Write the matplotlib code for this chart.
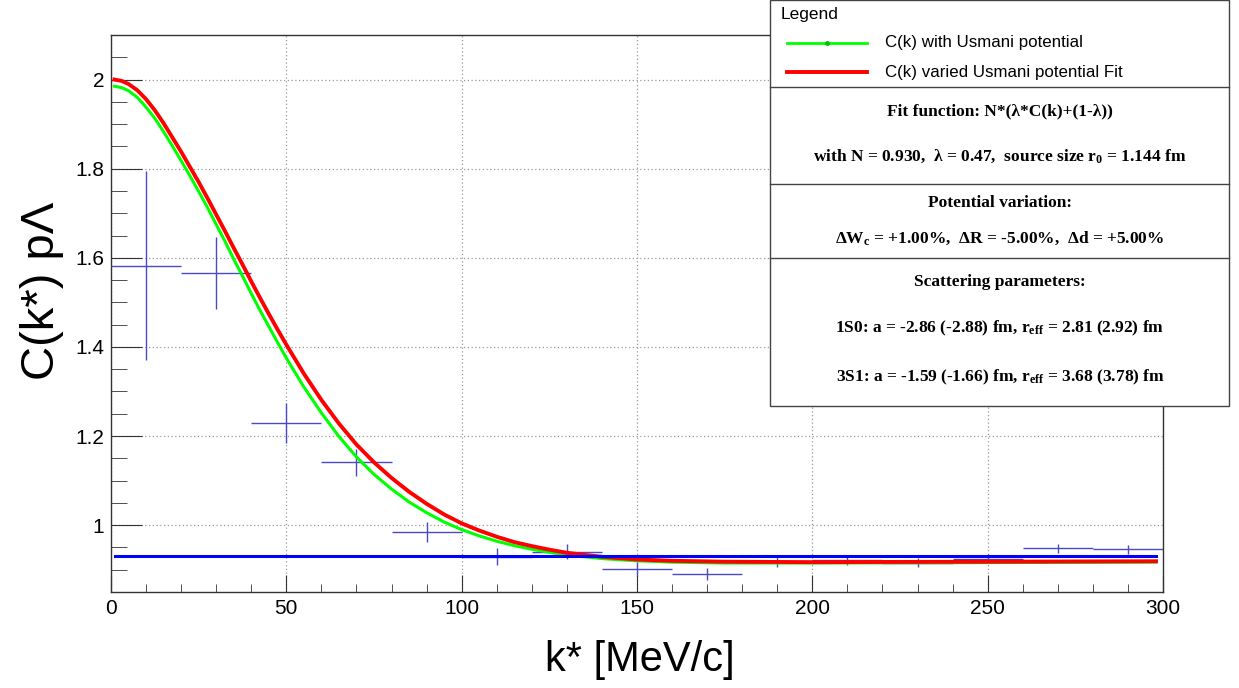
"""Correlation function C(k*) for p-Lambda: data vs Usmani-potential curves,
with a ROOT-style legend / fit-parameter box in the upper right."""
import matplotlib
matplotlib.use("Agg")
import matplotlib.pyplot as plt
from matplotlib.lines import Line2D
from matplotlib.patches import Rectangle
from matplotlib.ticker import MultipleLocator

# measured points (bin centres, bin half-width 10 MeV/c)
k_data = [10, 30, 50, 70, 90, 110, 130, 150, 170, 190, 210, 230, 250, 270, 290]
cf_data = [1.582, 1.565, 1.230, 1.141, 0.984, 0.929, 0.940, 0.902, 0.890,
           0.917, 0.921, 0.916, 0.925, 0.948, 0.946]
cf_err = [0.212, 0.081, 0.045, 0.031, 0.022, 0.019, 0.017, 0.016, 0.013,
          0.012, 0.011, 0.010, 0.010, 0.010, 0.010]
k_binhalf = [10] * len(k_data)

# curves
k_curve = [1, 3, 5, 7.5, 10, 12.5, 15, 17.5, 20, 22.5, 25, 27.5, 30, 32.5, 35,
           37.5, 40, 42.5, 45, 47.5, 50, 55, 60, 65, 70, 75, 80, 85, 90, 95,
           100, 105, 110, 115, 120, 125, 130, 140, 150, 160, 175, 200, 250, 298]
cf_usmani = [1.985, 1.982, 1.975, 1.960, 1.938, 1.913, 1.883, 1.851, 1.818,
             1.784, 1.749, 1.713, 1.675, 1.637, 1.597, 1.559, 1.520, 1.482,
             1.446, 1.410, 1.375, 1.310, 1.252, 1.199, 1.153, 1.114, 1.081,
             1.052, 1.028, 1.007, 0.990, 0.976, 0.964, 0.954, 0.946, 0.939,
             0.933, 0.925, 0.920, 0.917, 0.915, 0.915, 0.916, 0.917]
cf_varied = [2.000, 1.997, 1.990, 1.976, 1.956, 1.931, 1.902, 1.870, 1.838,
             1.804, 1.770, 1.734, 1.697, 1.660, 1.622, 1.585, 1.547, 1.510,
             1.474, 1.439, 1.405, 1.340, 1.281, 1.228, 1.181, 1.141, 1.106,
             1.075, 1.048, 1.024, 1.004, 0.988, 0.974, 0.962, 0.953, 0.945,
             0.938, 0.929, 0.923, 0.920, 0.918, 0.917, 0.918, 0.919]

# baseline N = 0.930
k_base = [1, 298]
cf_base = [0.930, 0.930]

legend_entries = ["C(k) with Usmani potential", "C(k) varied Usmani potential Fit"]
box_lines = [
    ("Fit function: N*(λ*C(k)+(1-λ))", 111),
    ("with N = 0.930,  λ = 0.47,  source size $\\mathrm{r}_{0}$ = 1.144 fm", 156),
    ("Potential variation:", 203),
    ("Δ$\\mathrm{W}_{\\mathrm{c}}$ = +1.00%,  ΔR = -5.00%,  Δd = +5.00%", 238),
    ("Scattering parameters:", 282),
    ("1S0: a = -2.86 (-2.88) fm, $\\mathrm{r}_{\\mathrm{eff}}$ = 2.81 (2.92) fm", 328),
    ("3S1: a = -1.59 (-1.66) fm, $\\mathrm{r}_{\\mathrm{eff}}$ = 3.68 (3.78) fm", 377),
]

W, H = 1239, 688


def fx(x):
    return x / W


def fy(y):
    return 1 - y / H


def plot(out="out.png"):
    plt.rcParams["font.family"] = ["Liberation Sans", "DejaVu Sans"]
    plt.rcParams["mathtext.fontset"] = "custom"
    plt.rcParams["mathtext.rm"] = "Liberation Serif:bold"
    plt.rcParams["mathtext.it"] = "Liberation Serif:bold"
    plt.rcParams["mathtext.bf"] = "Liberation Serif:bold"

    fig = plt.figure(figsize=(W / 100, H / 100), dpi=100)
    ax = fig.add_axes([fx(111), fy(592), fx(1163 - 111), (592 - 35) / H])

    ax.errorbar(k_data, cf_data, yerr=cf_err, xerr=k_binhalf, fmt="none",
                ecolor="#4a4ac4", elinewidth=1.0, capsize=0, zorder=3)
    ax.plot(k_curve, cf_usmani, color="#00ff00", lw=2.2, zorder=4,
            solid_joinstyle="round")
    ax.plot(k_curve, cf_varied, color="#ff0000", lw=2.8, zorder=5,
            solid_joinstyle="round")
    ax.plot(k_base, cf_base, color="#0000ff", lw=2.2, zorder=6)

    ax.set_xlim(0, 300)
    ax.set_ylim(0.85, 2.1)
    ax.xaxis.set_major_locator(MultipleLocator(50))
    ax.xaxis.set_minor_locator(MultipleLocator(10))
    ax.yaxis.set_minor_locator(MultipleLocator(0.05))
    ax.set_yticks([1.0, 1.2, 1.4, 1.6, 1.8, 2.0])
    ax.set_yticklabels(["1", "1.2", "1.4", "1.6", "1.8", "2"])
    ax.tick_params(which="both", direction="in", top=False, right=False,
                   labelsize=15, color="#333333")
    ax.tick_params(axis="x", which="major", length=12, pad=5)
    ax.tick_params(axis="x", which="minor", length=6)
    ax.tick_params(axis="y", which="major", length=22.5, pad=5)
    ax.tick_params(axis="y", which="minor", length=11.3)
    ax.grid(True, which="major", color="#999999", linestyle=(0, (1, 2)), lw=0.9)
    for sp in ax.spines.values():
        sp.set_color("#333333")
        sp.set_linewidth(1.0)

    fig.text(fx(640), fy(660), "k* [MeV/c]", fontsize=30, ha="center", va="center")
    fig.text(fx(42), fy(291), "C(k*) pΛ", fontsize=34, ha="center", va="center",
             rotation=90)

    # legend / parameter box
    fig.add_artist(Rectangle((fx(770), fy(406)), fx(1229 - 770), (406 - 0) / H,
                             transform=fig.transFigure, facecolor="white",
                             edgecolor="#444444", lw=1.0, zorder=10))
    for y in (87, 184, 258):
        fig.add_artist(Line2D([fx(770), fx(1229)], [fy(y), fy(y)],
                              transform=fig.transFigure, color="#444444",
                              lw=1.0, zorder=11))
    fig.text(fx(781), fy(15), "Legend", fontsize=12.5, ha="left", va="center", zorder=12)
    fig.add_artist(Line2D([fx(787), fx(867)], [fy(43), fy(43)], transform=fig.transFigure,
                          color="#00ff00", lw=2.0, zorder=12))
    fig.add_artist(Line2D([fx(827)], [fy(43)], transform=fig.transFigure, marker="o",
                          ms=2.5, color="#00c000", zorder=13))
    fig.add_artist(Line2D([fx(787), fx(867)], [fy(72), fy(72)], transform=fig.transFigure,
                          color="#ff0000", lw=2.8, zorder=12))
    for label, y in zip(legend_entries, (43, 72)):
        fig.text(fx(885), fy(y), label, fontsize=12.2, ha="left", va="center", zorder=12)
    for text, y in box_lines:
        fig.text(fx(1000), fy(y), text, fontsize=12.5, ha="center", va="center",
                 family=["Liberation Serif", "DejaVu Serif"], weight="bold", zorder=12)

    fig.savefig(out, dpi=100)
    print(f"saved {out}")


if __name__ == "__main__":
    plot()
